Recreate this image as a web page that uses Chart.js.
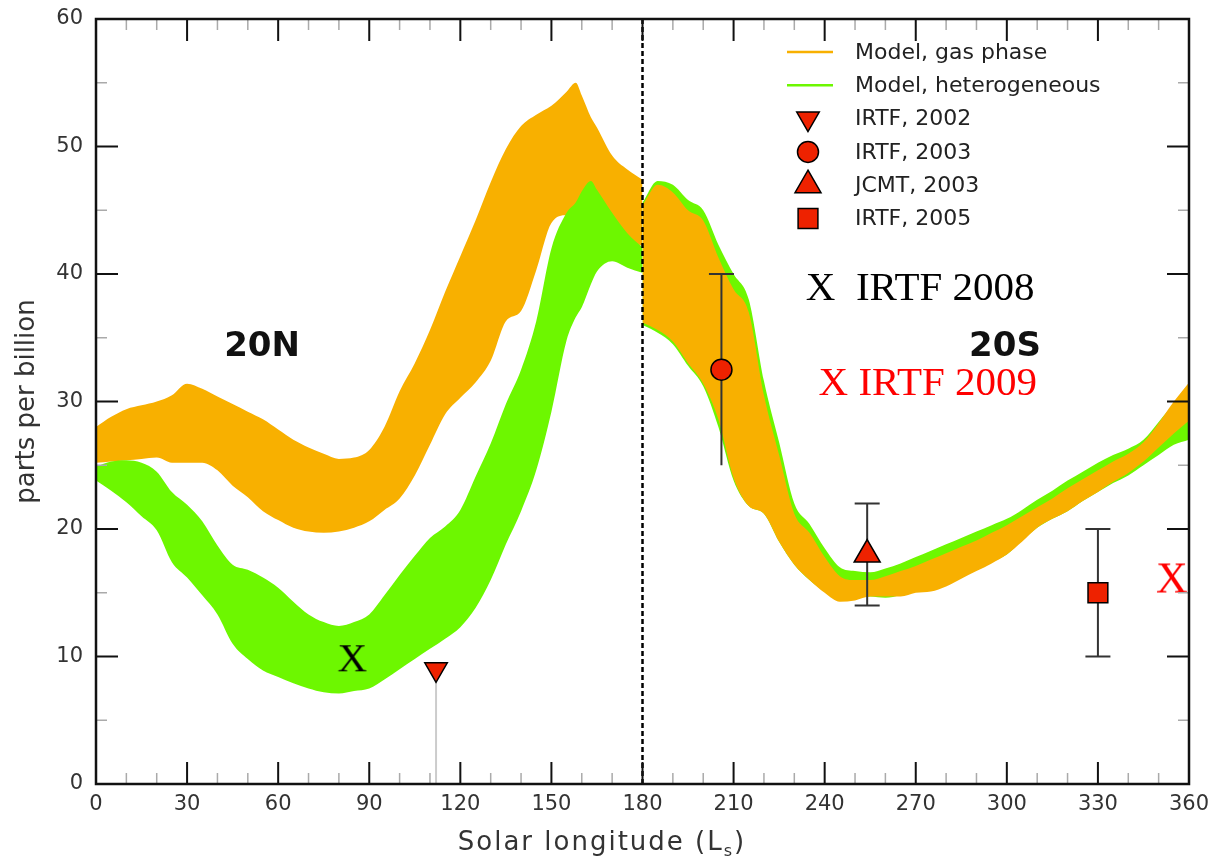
<!DOCTYPE html>
<html>
<head>
<meta charset="utf-8">
<title>HCl / ozone model bands vs solar longitude</title>
<script src="https://cdn.jsdelivr.net/npm/chart.js@4.4.1/dist/chart.umd.min.js"></script>
<style>
  html, body { margin: 0; padding: 0; background: #fff; }
  #chartCanvas { display: block; }
</style>
</head>
<body>
<canvas id="chartCanvas" width="1220" height="860"></canvas>
<script>
// 20N panel: model bands (parts per billion) vs solar longitude
const lsNorth = [0, 5, 10, 15, 20, 25, 30, 35, 40, 45, 50, 55, 60, 65, 70, 75, 80, 85, 90, 95,
  100, 105, 110, 115, 120, 125, 130, 135, 140, 145, 150, 155, 158, 160, 163, 165, 170, 175, 180];
const gasHighN = [28.0, 28.8, 29.4, 29.7, 30.0, 30.5, 31.4, 31.0, 30.4, 29.8, 29.2, 28.6, 27.8, 27.0, 26.4, 25.9, 25.5, 25.6, 26.2, 28.0,
  30.8, 33.0, 35.6, 38.6, 41.4, 44.2, 47.2, 49.8, 51.6, 52.5, 53.2, 54.3, 55.0, 54.0, 52.3, 51.5, 49.3, 48.2, 47.4];
const gasLowN = [25.2, 25.3, 25.4, 25.5, 25.6, 25.2, 25.2, 25.2, 24.6, 23.4, 22.5, 21.4, 20.7, 20.1, 19.8, 19.7, 19.8, 20.1, 20.6, 21.5,
  22.4, 24.2, 26.6, 29.0, 30.3, 31.5, 33.2, 36.3, 37.1, 40.3, 44.0, 44.6, 44.6, 44.5, 44.0, 43.6, 43.0, 42.6, 42.2];
const hetHighN = [24.9, 25.3, 25.4, 25.2, 24.5, 22.9, 21.9, 20.6, 18.7, 17.2, 16.8, 16.2, 15.4, 14.3, 13.3, 12.7, 12.4, 12.7, 13.3, 14.8,
  16.4, 17.9, 19.3, 20.2, 21.5, 24.1, 26.7, 29.8, 32.5, 36.3, 42.0, 44.8, 45.6, 46.5, 47.3, 46.6, 44.8, 43.2, 42.1];
const hetLowN = [23.8, 23.0, 22.1, 21.0, 19.9, 17.4, 16.2, 14.8, 13.3, 11.0, 9.8, 8.9, 8.4, 7.9, 7.5, 7.2, 7.1, 7.3, 7.5, 8.2,
  9.0, 9.8, 10.6, 11.4, 12.3, 13.8, 16.0, 18.8, 21.4, 24.6, 29.2, 34.8, 36.6, 37.4, 39.2, 40.2, 41.0, 40.5, 40.1];

// 20S panel
const lsSouth = [180, 185, 190, 195, 200, 205, 210, 215, 220, 225, 230, 235, 240, 245, 250, 255, 260, 265, 270,
  275, 280, 285, 290, 295, 300, 305, 310, 315, 320, 325, 330, 335, 340, 345, 350, 355, 360];
const gasHighS = [45.4, 47.0, 46.4, 45.0, 44.2, 41.3, 38.8, 37.0, 30.5, 25.8, 21.2, 19.7, 17.8, 16.3, 16.0, 16.0, 16.3, 16.7, 17.1,
  17.6, 18.1, 18.6, 19.1, 19.7, 20.3, 21.0, 21.7, 22.4, 23.2, 23.9, 24.6, 25.3, 25.9, 26.8, 28.3, 30.0, 31.5];
const gasLowS = [36.2, 35.6, 34.7, 33.0, 31.4, 28.6, 24.0, 21.8, 21.2, 19.0, 17.2, 16.0, 15.0, 14.3, 14.4, 14.7, 14.7, 14.7, 15.0,
  15.1, 15.5, 16.1, 16.7, 17.3, 18.0, 19.0, 20.1, 20.8, 21.4, 22.2, 22.9, 23.7, 24.4, 25.3, 26.4, 27.5, 28.5];
const hetHighS = [45.6, 47.3, 47.0, 45.8, 45.0, 42.3, 40.0, 38.0, 31.6, 26.8, 22.0, 20.4, 18.5, 17.0, 16.7, 16.6, 16.9, 17.3, 17.8,
  18.3, 18.8, 19.3, 19.8, 20.3, 20.8, 21.5, 22.3, 23.0, 23.8, 24.5, 25.2, 25.8, 26.3, 27.0, 28.4, 29.8, 31.0];
const hetLowS = [36.0, 35.4, 34.5, 32.8, 31.2, 28.0, 23.8, 21.8, 21.2, 19.0, 17.2, 16.0, 15.1, 14.5, 14.6, 14.7, 14.6, 14.8, 15.1,
  15.3, 15.6, 16.2, 16.8, 17.4, 18.0, 19.1, 20.1, 20.8, 21.4, 22.2, 22.9, 23.6, 24.2, 25.0, 25.8, 26.6, 27.0];

// observations with error bars
const obsNames = ['IRTF, 2002', 'IRTF, 2003', 'JCMT, 2003', 'IRTF, 2005'];
const obsLs = [112, 206, 254, 330];
const obsPpb = [9, 32.5, 18, 15];
const obsLow = [0, 25, 14, 10];
const obsHigh = [9, 40, 22, 20];

// later IRTF retrievals marked with an X
const crossLs = [84.4, 354.4];
const crossPpb = [9.9, 16.2];

const xTicks = [0, 30, 60, 90, 120, 150, 180, 210, 240, 270, 300, 330, 360];
const yTicks = [0, 10, 20, 30, 40, 50, 60];
const hemisphereSplit = 180;

const ORANGE = '#F8B000';
const GREEN = '#6DF700';
const MARKER_RED = '#EE2200';
const SANS = '"DejaVu Sans", sans-serif';
const SERIF = '"Liberation Serif", "Times New Roman", serif';

const markerStyle = ['triangle', 'circle', 'triangle', 'rect'];
const markerRotation = [180, 0, 0, 0];
const markerRadius = [13, 10.5, 15, 14];
const errStyle = [
  { color: '#cccccc', capTop: false, capBottom: false },
  { color: '#333333', capTop: true, capBottom: false },
  { color: '#333333', capTop: true, capBottom: true },
  { color: '#333333', capTop: true, capBottom: true },
];

const pts = (xs, ys) => xs.map((v, i) => ({ x: v, y: ys[i] }));

function crossGlyph(color, size) {
  const c = document.createElement('canvas');
  const w = Math.ceil(size * 0.9);
  c.width = w; c.height = w;
  const g = c.getContext('2d');
  g.fillStyle = color;
  g.font = size + 'px ' + SERIF;
  g.textAlign = 'center';
  g.fillText('X', w / 2, w / 2 + 0.331 * size);
  return c;
}

function band(lo, hi, xs, color, order) {
  return [
    { data: pts(xs, lo), borderWidth: 0, pointRadius: 0, fill: false, order: order,
      cubicInterpolationMode: 'monotone', backgroundColor: color, borderColor: color },
    { data: pts(xs, hi), borderWidth: 0, pointRadius: 0, fill: '-1', order: order,
      cubicInterpolationMode: 'monotone', backgroundColor: color, borderColor: color },
  ];
}

const datasets = [
  { id: 'split', data: [{ x: hemisphereSplit, y: yTicks[0] }, { x: hemisphereSplit, y: yTicks[yTicks.length - 1] }],
    borderColor: '#000', borderWidth: 2.5, borderDash: [5, 3], pointRadius: 0, fill: false, order: 2 },
  { id: 'obs', data: pts(obsLs, obsPpb), showLine: false, order: 1,
    pointStyle: markerStyle, pointRotation: markerRotation, pointRadius: markerRadius,
    pointBackgroundColor: MARKER_RED, pointBorderColor: '#000', pointBorderWidth: 1.5 },
  { id: 'cross', data: pts(crossLs, crossPpb), showLine: false, order: 0, clip: false,
    pointStyle: [crossGlyph('#000', 41), crossGlyph('#ff0000', 44)], pointRadius: 10 },
  // north: heterogeneous band over gas phase band
  ...band(gasLowN, gasHighN, lsNorth, ORANGE, 20),
  ...band(hetLowN, hetHighN, lsNorth, GREEN, 10),
  // south: gas phase band over heterogeneous band
  ...band(hetLowS, hetHighS, lsSouth, GREEN, 20),
  ...band(gasLowS, gasHighS, lsSouth, ORANGE, 10),
];

const legendRows = [
  { label: 'Model, gas phase', line: ORANGE },
  { label: 'Model, heterogeneous', line: GREEN },
  ...obsNames.map((n, i) => ({ label: n, marker: i })),
];

function drawMarker(ctx, i, x, y, r) {
  ctx.fillStyle = MARKER_RED;
  ctx.strokeStyle = '#000';
  ctx.lineWidth = 1.5;
  Chart.helpers.drawPoint(ctx, { pointStyle: markerStyle[i], rotation: markerRotation[i], radius: r, borderWidth: 1.5 }, x, y);
}

const errorBars = {
  id: 'errorBars',
  beforeDatasetDraw(chart, args) {
    if (chart.data.datasets[args.index].id !== 'obs') return;
    const { ctx, scales: { x, y } } = chart;
    ctx.save();
    ctx.lineWidth = 2;
    obsLs.forEach((ls, i) => {
      const st = errStyle[i];
      const px = x.getPixelForValue(ls);
      const top = y.getPixelForValue(obsHigh[i]);
      const bot = y.getPixelForValue(obsLow[i]);
      ctx.strokeStyle = st.color;
      ctx.beginPath();
      ctx.moveTo(px, top); ctx.lineTo(px, bot);
      if (st.capTop) { ctx.moveTo(px - 12.5, top); ctx.lineTo(px + 12.5, top); }
      if (st.capBottom) { ctx.moveTo(px - 12.5, bot); ctx.lineTo(px + 12.5, bot); }
      ctx.stroke();
    });
    ctx.restore();
  }
};

const frame = {
  id: 'frame',
  afterDatasetsDraw(chart) {
    const { ctx, chartArea: a, scales: { x, y } } = chart;
    ctx.save();
    // minor ticks
    ctx.strokeStyle = '#aaaaaa';
    ctx.lineWidth = 1.5;
    ctx.beginPath();
    for (let v = 10; v < 360; v += 10) {
      if (v % 30 === 0) continue;
      const px = x.getPixelForValue(v);
      ctx.moveTo(px, a.bottom); ctx.lineTo(px, a.bottom - 11);
      ctx.moveTo(px, a.top); ctx.lineTo(px, a.top + 11);
    }
    for (let v = 5; v < 60; v += 10) {
      const py = y.getPixelForValue(v);
      ctx.moveTo(a.left, py); ctx.lineTo(a.left + 11, py);
      ctx.moveTo(a.right, py); ctx.lineTo(a.right - 11, py);
    }
    ctx.stroke();
    // major ticks, pointing into the plot on all four sides
    ctx.strokeStyle = '#111';
    ctx.lineWidth = 2;
    ctx.beginPath();
    xTicks.slice(1, -1).forEach(v => {
      const px = x.getPixelForValue(v);
      ctx.moveTo(px, a.bottom); ctx.lineTo(px, a.bottom - 22);
      ctx.moveTo(px, a.top); ctx.lineTo(px, a.top + 22);
    });
    yTicks.slice(1, -1).forEach(v => {
      const py = y.getPixelForValue(v);
      ctx.moveTo(a.left, py); ctx.lineTo(a.left + 22, py);
      ctx.moveTo(a.right, py); ctx.lineTo(a.right - 22, py);
    });
    ctx.stroke();
    ctx.lineWidth = 2.5;
    ctx.strokeRect(a.left, a.top, a.right - a.left, a.bottom - a.top);
    ctx.restore();
  },
  afterDraw(chart) {
    const { ctx, chartArea: a, scales: { x, y } } = chart;
    ctx.save();
    ctx.fillStyle = '#333';
    ctx.textBaseline = 'alphabetic';

    // axis titles
    ctx.font = '26px ' + SANS;
    ctx.letterSpacing = '2px';
    const main = 'Solar longitude (L';
    const wMain = ctx.measureText(main).width;
    ctx.font = '16px ' + SANS;
    const wSub = ctx.measureText('s').width;
    ctx.font = '26px ' + SANS;
    const wEnd = ctx.measureText(')').width;
    let tx = 602 - (wMain + wSub + wEnd) / 2;
    ctx.textAlign = 'left';
    ctx.fillText(main, tx, 850);
    ctx.font = '16px ' + SANS;
    ctx.fillText('s', tx + wMain, 856);
    ctx.font = '26px ' + SANS;
    ctx.fillText(')', tx + wMain + wSub, 850);

    ctx.letterSpacing = '0px';
    ctx.save();
    ctx.translate(27, (a.top + a.bottom) / 2);
    ctx.rotate(-Math.PI / 2);
    ctx.textAlign = 'center';
    ctx.textBaseline = 'middle';
    ctx.fillText('parts per billion', 0, 0);
    ctx.restore();

    // legend in the upper right of the plot
    ctx.textBaseline = 'middle';
    ctx.textAlign = 'left';
    legendRows.forEach((row, i) => {
      const ry = 52 + i * 33.3;
      if (row.line) {
        ctx.strokeStyle = row.line;
        ctx.lineWidth = 2.5;
        ctx.beginPath();
        ctx.moveTo(787, ry); ctx.lineTo(833, ry);
        ctx.stroke();
      } else {
        drawMarker(ctx, row.marker, 808, ry, markerRadius[row.marker]);
      }
      ctx.fillStyle = '#222';
      ctx.font = '22px ' + SANS;
      ctx.fillText(row.label, 855, ry + 1);
    });

    // hemisphere labels
    ctx.fillStyle = '#111';
    ctx.font = 'bold 34px ' + SANS;
    ctx.textAlign = 'center';
    ctx.fillText('20N', x.getPixelForValue(54.7), y.getPixelForValue(34.3));
    ctx.fillText('20S', x.getPixelForValue(299.4), y.getPixelForValue(34.3));

    // key for the X marks
    ctx.textAlign = 'left';
    ctx.textBaseline = 'alphabetic';
    ctx.font = '41px ' + SERIF;
    ctx.fillStyle = '#000';
    ctx.fillText('X  IRTF 2008', x.getPixelForValue(233.8), y.getPixelForValue(37.96));
    ctx.fillStyle = '#ff0000';
    ctx.fillText('X IRTF 2009', x.getPixelForValue(238.0), y.getPixelForValue(30.5));
    ctx.restore();
  }
};

const tickFont = { family: SANS, size: 21 };

new Chart(document.getElementById('chartCanvas'), {
  type: 'line',
  data: { datasets: datasets },
  options: {
    responsive: false,
    animation: false,
    devicePixelRatio: 1,
    layout: { padding: { top: 19, right: 31, bottom: 0, left: 0 } },
    plugins: { legend: { display: false }, tooltip: { enabled: false } },
    scales: {
      x: {
        type: 'linear', min: 0, max: 360,
        afterBuildTicks: s => { s.ticks = xTicks.map(v => ({ value: v })); },
        ticks: { color: '#333', font: tickFont, padding: 8, maxRotation: 0, autoSkip: false },
        grid: { display: false, drawTicks: false },
        border: { display: false },
        afterFit: s => { s.height = 76; s.paddingLeft = 0; s.paddingRight = 0; },
      },
      y: {
        type: 'linear', min: 0, max: 60,
        afterBuildTicks: s => { s.ticks = yTicks.map(v => ({ value: v })); },
        ticks: { color: '#333', font: tickFont, padding: 13, autoSkip: false },
        grid: { display: false, drawTicks: false },
        border: { display: false },
        afterFit: s => { s.width = 96; s.paddingTop = 0; s.paddingBottom = 0; },
      },
    },
  },
  plugins: [errorBars, frame],
});
</script>
</body>
</html>
